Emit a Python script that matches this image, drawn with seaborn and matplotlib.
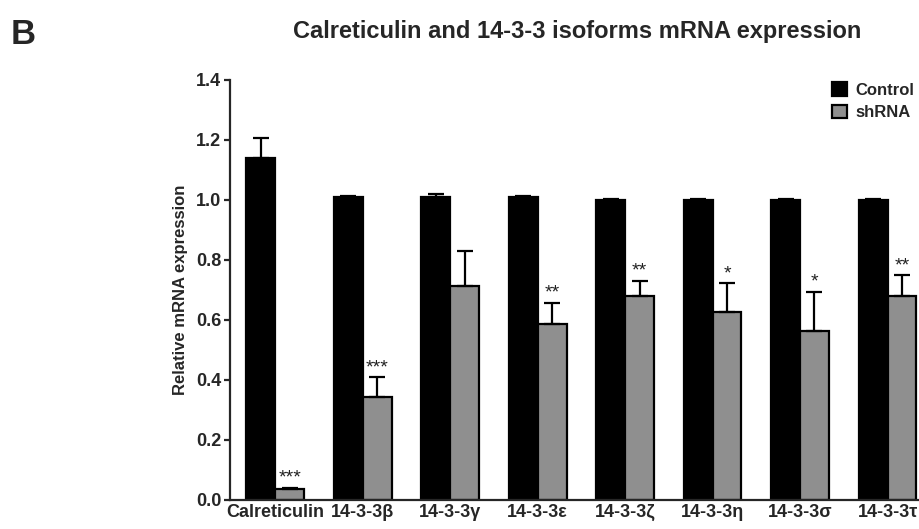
import matplotlib
matplotlib.use("Agg")
import matplotlib.pyplot as plt
import seaborn as sns
import pandas as pd
import numpy as np

genes = ["Calreticulin", "14-3-3β", "14-3-3γ", "14-3-3ε", "14-3-3ζ", "14-3-3η", "14-3-3σ", "14-3-3τ"]
control_mean = [1.14, 1.01, 1.01, 1.01, 1.00, 1.00, 1.00, 1.00]
control_sem = [0.067, 0.004, 0.01, 0.002, 0.002, 0.003, 0.002, 0.002]
shrna_mean = [0.037, 0.343, 0.712, 0.587, 0.680, 0.627, 0.563, 0.680]
shrna_sem = [0.004, 0.066, 0.117, 0.069, 0.051, 0.095, 0.130, 0.068]
stars = ["***", "***", "", "**", "**", "*", "*", "**"]
groups = ["Control", "shRNA"]

df = pd.DataFrame({
    "gene": genes * 2,
    "group": [groups[0]] * len(genes) + [groups[1]] * len(genes),
    "value": control_mean + shrna_mean,
    "sem": control_sem + shrna_sem,
})

sns.set_style("ticks")
plt.rcParams["font.family"] = ["Liberation Sans", "DejaVu Sans"]

fig = plt.figure(figsize=(9.19, 5.29), dpi=100)
ax = fig.add_axes([0.25, 0.055, 0.75, 0.794])

sns.barplot(data=df, x="gene", y="value", hue="group", order=genes,
            hue_order=groups, palette={"Control": "black", "shRNA": "#8f8f8f"},
            width=0.66, errorbar=None, edgecolor="black", linewidth=1.6,
            saturation=1, ax=ax)

# one-sided SEM whiskers and significance marks on top of each bar
n = len(genes)
for i, patch in enumerate(ax.patches[:2 * n]):
    g = i // n
    k = i % n
    x = patch.get_x() + patch.get_width() / 2
    h = patch.get_height()
    err = control_sem[k] if g == 0 else shrna_sem[k]
    ax.errorbar(x, h, yerr=[[0], [err]], fmt="none", ecolor="black",
                elinewidth=1.6, capsize=6, capthick=1.6, zorder=1)
    if g == 1 and stars[k]:
        ax.text(x, h + err + 0.004, stars[k], ha="center", va="bottom",
                fontsize=14, color="#222222")

ax.set_ylim(0, 1.4)
ax.set_xlim(-0.52, 7.36)
ax.set_yticks(np.arange(0, 1.41, 0.2))
ax.set_yticklabels([f"{v:.1f}" for v in np.arange(0, 1.41, 0.2)],
                   fontsize=13, fontweight="bold")
ax.set_xticks(range(n))
ax.set_xticklabels(genes, fontsize=13, fontweight="bold")
ax.tick_params(axis="x", length=0, pad=3)
ax.tick_params(axis="y", length=4, width=1.6, pad=2)
ax.set_xlabel("")
ax.set_ylabel("Relative mRNA expression", fontsize=12, fontweight="bold", labelpad=6)
for s in ["left", "bottom"]:
    ax.spines[s].set_linewidth(1.6)
sns.despine(ax=ax)

leg = ax.legend(loc="upper right", bbox_to_anchor=(1.015, 1.03), frameon=False,
                fontsize=12, handlelength=0.9, handleheight=0.9,
                handletextpad=0.5, labelspacing=0.4)
for t in leg.get_texts():
    t.set_fontweight("bold")

fig.text(0.628, 0.94, "Calreticulin and 14-3-3 isoforms mRNA expression",
         ha="center", va="center", fontsize=17, fontweight="bold")
fig.text(0.012, 0.935, "B", ha="left", va="center", fontsize=25, fontweight="bold")

fig.savefig("out.png", dpi=100)
